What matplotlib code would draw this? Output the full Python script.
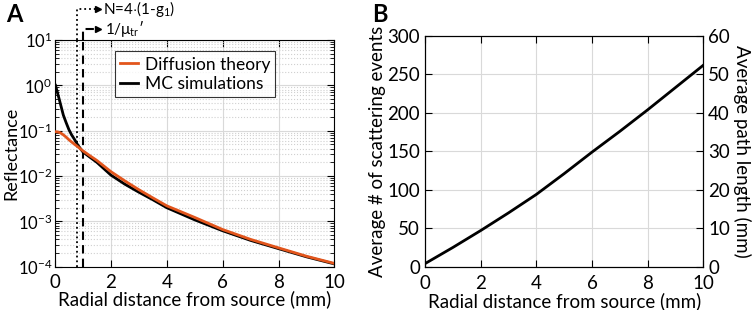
import matplotlib
matplotlib.use("Agg")
import matplotlib.pyplot as plt
import matplotlib.transforms as mtransforms
from matplotlib.ticker import LogLocator, NullFormatter, MultipleLocator

plt.rcParams['font.family'] = ['Lato', 'DejaVu Sans']
plt.rcParams['mathtext.fontset'] = 'custom'
plt.rcParams['mathtext.rm'] = 'Lato'
plt.rcParams['mathtext.it'] = 'Lato:italic'

# Panel A data: reflectance vs radial distance
r_dt = [0, 0.1, 0.2, 0.3, 0.4, 0.5, 0.6, 0.7, 0.8, 0.9, 1.0, 1.25, 1.5,
        2, 2.5, 3, 3.5, 4, 5, 6, 7, 8, 9, 10]
refl_dt = [0.095, 0.094, 0.089, 0.081, 0.072, 0.063, 0.056, 0.050, 0.045,
           0.040, 0.036, 0.028, 0.022, 0.0125, 0.0078, 0.0050, 0.0033,
           0.0022, 0.00122, 0.00066, 0.00040, 0.00026, 0.00017, 0.000118]

r_mc = [0.02, 0.05, 0.1, 0.15, 0.2, 0.3, 0.4, 0.5, 0.6, 0.7, 0.8, 0.9, 1.0,
        1.25, 1.5, 2, 2.5, 3, 3.5, 4, 5, 6, 7, 8, 9, 10]
refl_mc = [1.0, 0.85, 0.65, 0.5, 0.38, 0.22, 0.15, 0.105, 0.08, 0.064,
           0.050, 0.041, 0.034, 0.026, 0.020, 0.0105, 0.0066, 0.0044,
           0.0030, 0.0020, 0.00108, 0.00062, 0.00038, 0.00025, 0.000165,
           0.000115]

N_line = 0.8       # N = 4(1-g1)
mutr_line = 1.0    # 1/mu_tr'

# Panel B data: average number of scattering events
r_b = [0, 1, 2, 3, 4, 5, 6, 7, 8, 9, 10]
n_scat = [4, 25, 47, 70, 94, 121, 149, 176, 204, 233, 262]

orange = '#E2551C'
fs = 13.5

fig = plt.figure(figsize=(7.54, 3.10), dpi=100)

# ---- Panel A ----
axA = fig.add_axes([0.0729, 0.1397, 0.3707, 0.7313])
axA.semilogy(r_dt, refl_dt, color=orange, lw=2.0, label='Diffusion theory', zorder=4)
axA.semilogy(r_mc, refl_mc, color='black', lw=2.0, label='MC simulations', zorder=3)
axA.axvline(N_line, color='black', ls=':', lw=1.3)
axA.axvline(mutr_line, color='black', ls=(0, (4, 2.5)), lw=1.5)
axA.set_xlim(0, 10)
axA.set_ylim(1e-4, 10)
axA.set_xticks([0, 2, 4, 6, 8, 10])
axA.yaxis.set_major_locator(LogLocator(base=10, numticks=10))
axA.yaxis.set_minor_locator(LogLocator(base=10, subs=range(2, 10), numticks=20))
axA.yaxis.set_minor_formatter(NullFormatter())
axA.grid(True, which='major', color='#d9d9d9', lw=0.8)
axA.grid(True, which='minor', axis='y', color='#d0d0d0', ls=':', lw=0.8)
axA.set_axisbelow(True)
axA.tick_params(direction='in', top=True, right=True, which='both', labelsize=fs)
axA.tick_params(axis='y', labelsize=12, pad=2)
axA.tick_params(axis='x', pad=5)
axA.tick_params(which='major', length=5)
axA.tick_params(which='minor', length=3)
axA.set_xlabel('Radial distance from source (mm)', fontsize=fs, labelpad=0)
axA.set_ylabel('Reflectance', fontsize=13, va='center')
axA.yaxis.set_label_coords(-0.157, 0.5)
leg = axA.legend(loc='upper left', bbox_to_anchor=(0.215, 0.95), fontsize=fs - 1,
                 frameon=True, fancybox=False, edgecolor='black',
                 handlelength=1.0, handletextpad=0.4, borderpad=0.3,
                 labelspacing=0.2, borderaxespad=0)
leg.get_frame().set_linewidth(0.8)

# lines and arrows above panel A
tr = mtransforms.blended_transform_factory(axA.transData, axA.transAxes)
yN, yM = 1.135, 1.047
axA.plot([N_line, N_line, 1.5], [1.0, yN, yN], transform=tr, clip_on=False,
         color='black', ls=':', lw=1.3)
axA.plot([1.55], [yN], transform=tr, clip_on=False, marker='>', color='black', ms=5)
axA.plot([mutr_line, mutr_line, 1.45], [1.0, yM, yM], transform=tr, clip_on=False,
         color='black', ls=(0, (4, 2.5)), lw=1.5)
axA.plot([1.55], [yM], transform=tr, clip_on=False, marker='>', color='black', ms=5)
axA.text(1.72, yN, r'N=4$\cdot$(1-g$_1$)', transform=tr, fontsize=11, va='center')
axA.text(1.8, yM, r'1/μ$_{\mathrm{tr}}$′', transform=tr, fontsize=11, va='center')

# ---- Panel B ----
axB = fig.add_axes([0.5637, 0.1397, 0.369, 0.744])
axB.plot(r_b, n_scat, color='black', lw=2.0)
axB.set_xlim(0, 10)
axB.set_ylim(0, 300)
axB.xaxis.set_major_locator(MultipleLocator(2))
axB.yaxis.set_major_locator(MultipleLocator(50))
axB.grid(True, color='#d9d9d9', lw=0.8)
axB.tick_params(direction='in', top=True, length=5, labelsize=fs)
axB.tick_params(axis='x', pad=6)
axB.set_xlabel('Radial distance from source (mm)', fontsize=fs, labelpad=0)
axB.set_ylabel('Average # of scattering events', fontsize=fs, labelpad=1)
axB2 = axB.twinx()
axB2.set_ylim(0, 60)
axB2.yaxis.set_major_locator(MultipleLocator(10))
axB2.tick_params(direction='in', length=5, labelsize=fs)
axB2.set_ylabel('Average path length (mm)', fontsize=fs, rotation=270, labelpad=15)

fig.text(0.008, 0.99, 'A', fontsize=17, fontweight='bold', va='top')
fig.text(0.494, 0.99, 'B', fontsize=17, fontweight='bold', va='top')

fig.savefig('out.png', dpi=100)
